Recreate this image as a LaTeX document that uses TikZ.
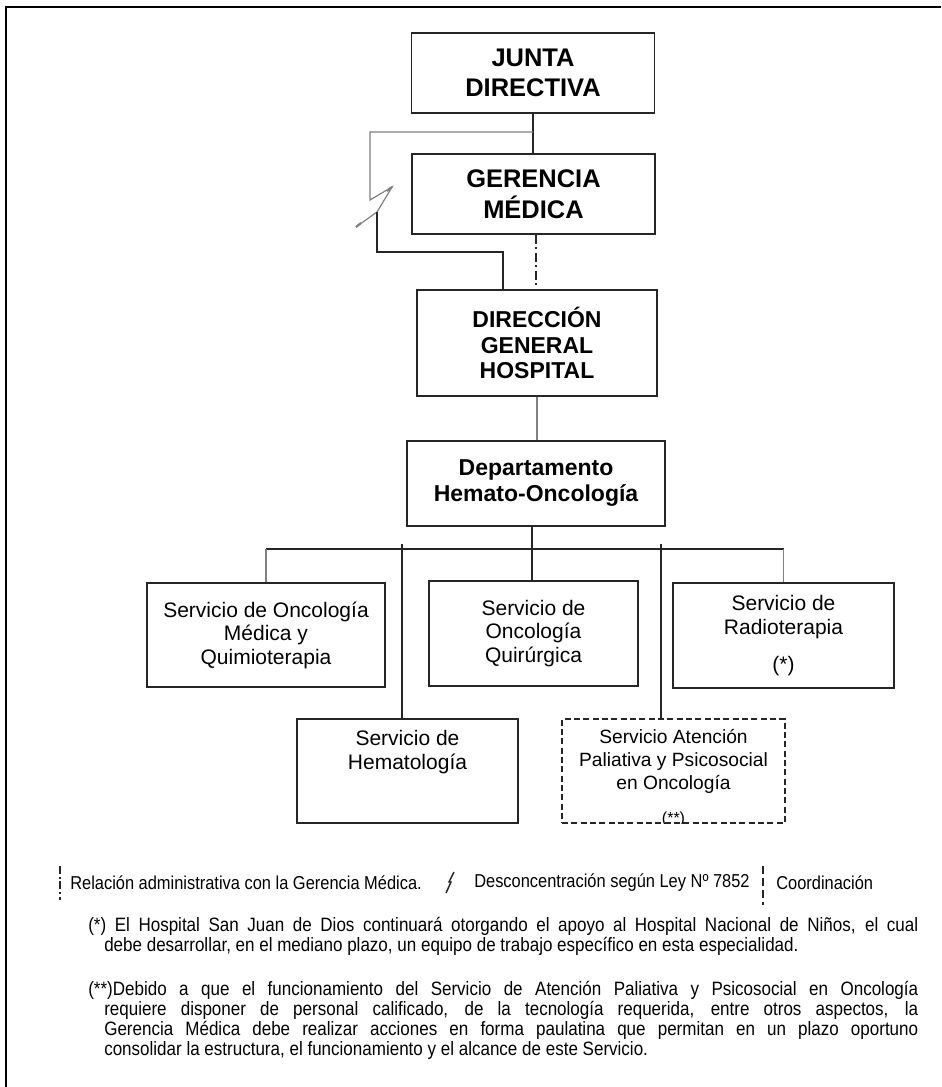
\documentclass[tikz,border=0pt]{standalone}
\usepackage{fontspec}
\setmainfont{Liberation Sans}
\newfontfamily\narrowfont[FakeStretch=0.88]{Liberation Sans}
\usetikzlibrary{positioning}

\definecolor{boxline}{HTML}{262626}
\definecolor{linegray}{HTML}{808080}

\tikzset{
  orgbox/.style={draw=boxline, line width=1.2pt, inner sep=0pt, align=center},
  headtxt/.style={font=\bfseries\fontsize{19.1}{23}\selectfont},
  dirtxt/.style={font=\bfseries\fontsize{17.25}{19}\selectfont},
  svctxt/.style={font=\fontsize{15.75}{17.6}\selectfont},
  smalltxt/.style={font=\fontsize{14.4}{16.9}\selectfont, inner sep=0pt, align=center},
  conn/.style={draw=boxline, line width=1pt},
  drop/.style={draw=linegray, line width=1pt},
  desc/.style={draw=linegray, line width=0.9pt},
  dashdot/.style={draw=boxline, line width=0.8pt, dash pattern=on 7pt off 2.5pt on 1.5pt off 2.5pt},
  legtxt/.style={font=\narrowfont\fontsize{14}{16}\selectfont, inner sep=0pt, anchor=west},
  notetxt/.style={font=\narrowfont\fontsize{14.5}{15}\selectfont, inner sep=0pt, anchor=north west,
    text width=610.5pt, align=justify}
}

\begin{document}
\begin{tikzpicture}[x=0.75pt, y=-0.75pt]
  \useasboundingbox (0,0) rectangle (941,1087);
  \fill[white] (0,0) rectangle (941,1087);
  % frame
  \draw[line width=1.5pt] (6,1087) -- (6,7) -- (941,7);

  % upper levels
  \node[orgbox, headtxt, minimum width=182pt, minimum height=60pt] (junta) at (533,73) {JUNTA\\DIRECTIVA};
  \node[orgbox, headtxt, minimum width=182pt, minimum height=60pt] (gerencia) at (533.5,194) {GERENCIA\\MÉDICA};
  \node[orgbox, dirtxt, minimum width=180pt, minimum height=79.5pt] (direccion) at (537,343) {DIRECCIÓN\\GENERAL\\HOSPITAL};
  \node[orgbox, dirtxt, font=\bfseries\fontsize{17.25}{19.5}\selectfont, minimum width=193.5pt, minimum height=63.75pt] (depto) at (536,483.5) {Departamento\\Hemato-Oncología};

  % services
  \node[orgbox, svctxt, minimum width=178.5pt, minimum height=78pt] (onco) at (266,635) {Servicio de Oncología\\Médica y\\Quimioterapia};
  \node[orgbox, svctxt, minimum width=156.75pt, minimum height=78.75pt] (quir) at (533.5,633.5) {Servicio de\\Oncología\\Quirúrgica};
  \node[orgbox, svctxt, minimum width=165.75pt, minimum height=78.75pt] (radio) at (783.5,635.5) {Servicio de\\Radioterapia\\[10pt](*)};
  \node[orgbox, minimum width=165.75pt, minimum height=78pt] (hema) at (407.5,771) {};
  \node[svctxt, inner sep=0pt, align=center, below=9pt of hema.north] (hema-t) {Servicio de\\Hematología};
  \node[orgbox, dash pattern=on 4.5pt off 2.5pt, minimum width=167.25pt, minimum height=78pt] (palia) at (673.5,771) {};
  \node[smalltxt, below=8.5pt of palia.north] (palia-t) {Servicio Atención\\Paliativa y Psicosocial\\en Oncología};
  \begin{scope}
    \clip (palia.south west) rectangle (palia.north east);
    \node[font=\fontsize{12}{14}\selectfont, inner sep=0pt] (palia-n) at (673.5,819) {(**)};
  \end{scope}

  % connectors
  \coordinate (jg) at (533,132);
  \coordinate (bolt-top) at (370,200);
  \coordinate (bolt-tip1) at (392,187);
  \coordinate (bolt-mid) at (377,212);
  \coordinate (bolt-tip2) at (356,227);
  \coordinate (dir-in) at (503,252);
  \draw[conn] (junta.south) -- (junta.south |- gerencia.north);
  \draw[desc] (jg) -| (bolt-top) -- (bolt-tip1) -- (bolt-mid) -- (bolt-tip2);
  \draw[desc, line width=1.6pt] (bolt-tip1) -- ++(-5,4);
  \draw[desc, line width=1.6pt] (bolt-tip2) -- ++(5,-4);
  \draw[conn] (bolt-mid) |- (dir-in) -- (dir-in |- direccion.north);
  \draw[dashdot] (gerencia.south -| 536,0) -- (direccion.north -| 536,0);
  \draw[drop] (direccion.south) -- (direccion.south |- depto.north);

  \coordinate (br) at (532,549);
  \draw[conn] (depto.south -| br) -- (br);
  \draw[conn] (onco.north |- br) -- (radio.north |- br);
  \draw[drop] (onco.north |- br) -- (onco.north);
  \draw[conn] (br) -- (br |- quir.north);
  \draw[drop] (radio.north |- br) -- (radio.north);
  \coordinate (hema-in) at (402,544);
  \coordinate (palia-in) at (661,544);
  \draw[conn] (hema-in) -- (hema-in |- hema.north);
  \draw[conn] (palia-in) -- (palia-in |- palia.north);

  % legend
  \draw[dashdot, dash pattern=on 6pt off 2pt on 1.5pt off 2pt] (60,866) -- (60,900);
  \node[legtxt] (leg-adm) at (70,883) {Relación administrativa con la Gerencia Médica.};
  \draw[boxline, line width=1.1pt] (446,893) -- (451,882) -- (449,882) -- (454,872);
  \node[legtxt] (leg-desc) at (474,883) {Desconcentración según Ley Nº 7852};
  \draw[boxline, line width=0.8pt, dash pattern=on 6pt off 3pt] (763,866) -- (763,905);
  \node[legtxt] (leg-coord) at (776,883) {Coordinación};

  % notes
  \node[notetxt] (note1) at (104,917) {\hskip-12pt (*) El Hospital San Juan de Dios continuará otorgando el apoyo al Hospital Nacional de Niños, el cual\linebreak debe desarrollar, en el mediano plazo, un equipo de trabajo específico en esta especialidad.};
  \node[notetxt] (note2) at (104,981) {\hskip-12pt (**)Debido a que el funcionamiento del Servicio de Atención Paliativa y Psicosocial en Oncología\linebreak requiere disponer de personal calificado, de la tecnología requerida, entre otros aspectos, la\linebreak Gerencia Médica debe realizar acciones en forma paulatina que permitan en un plazo oportuno\linebreak consolidar la estructura, el funcionamiento y el alcance de este Servicio.};
\end{tikzpicture}
\end{document}
